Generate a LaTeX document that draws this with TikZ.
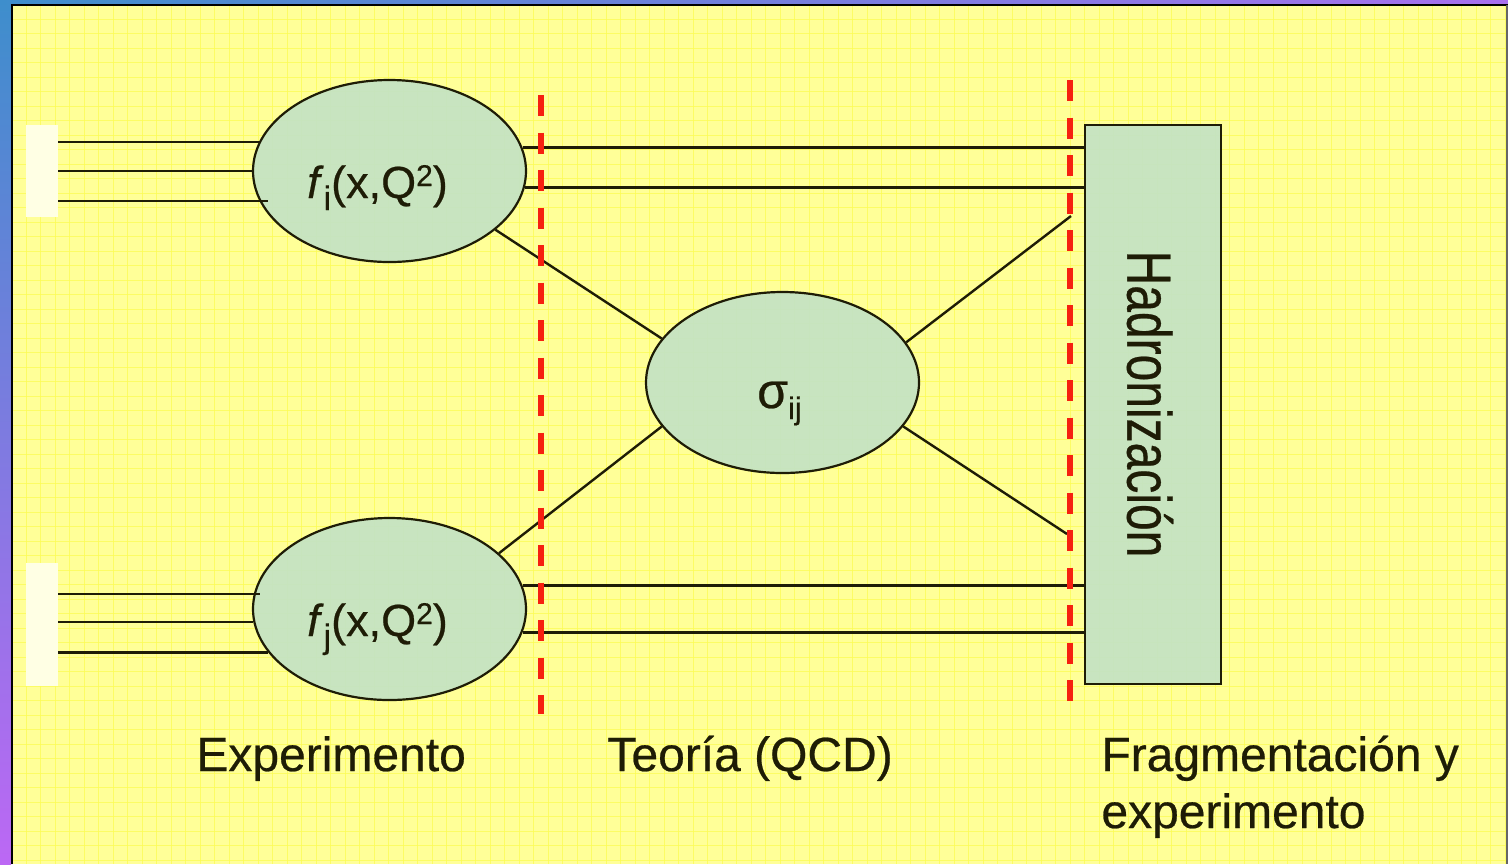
\documentclass[tikz,border=0pt]{standalone}
\usepackage{fontspec}
\setmainfont{Liberation Sans}[FakeBold=0.5]
\usetikzlibrary{shapes.geometric}
\definecolor{bgyellow}{RGB}{255,255,152}
\definecolor{gridyellow}{RGB}{252,252,80}
\definecolor{cellgreen}{RGB}{196,227,196}
\definecolor{inkdark}{RGB}{30,28,6}
\definecolor{sepred}{RGB}{246,32,16}
\definecolor{beamwhite}{RGB}{255,255,228}
\definecolor{edgeblue}{RGB}{62,142,204}
\definecolor{edgepurple}{RGB}{188,104,244}
\definecolor{edgemid}{RGB}{168,112,238}
\newcommand\lowidx[1]{\raisebox{-6pt}{\fontsize{17}{17}\selectfont #1}}
\newcommand\highidx[1]{\raisebox{6pt}{\fontsize{15}{15}\selectfont #1}}
\newcommand\sigidx[1]{\raisebox{-5.5pt}{\fontsize{15.5}{15.5}\selectfont #1}}
\begin{document}
\begin{tikzpicture}[x=0.5pt,y=-0.5pt,
  gridline/.style={draw=gridyellow, line width=0.45pt, opacity=0.7},
  part/.style={ellipse, draw=inkdark, line width=1.1pt, fill=cellgreen, fill opacity=0.93,
    minimum width=136.5pt, minimum height=91pt, inner sep=0pt},
  parttext/.style={font=\fontsize{22.5}{26}\selectfont, text=inkdark, inner sep=0pt, anchor=base},
  beam/.style={rectangle, fill=beamwhite, draw=none, minimum width=16pt, inner sep=0pt},
  hadbox/.style={rectangle, draw=inkdark, line width=1.3pt, fill=cellgreen, fill opacity=0.93,
    minimum width=68pt, minimum height=279.5pt, inner sep=0pt},
  wire/.style={draw=inkdark, line width=1.2pt},
  sepline/.style={draw=sepred, line width=3pt, dash pattern=on 10.5pt off 8.25pt},
  caption/.style={font=\fontsize{24}{28.5}\selectfont, text=inkdark, inner sep=0pt, align=left}]
\useasboundingbox (0,0) rectangle (1508,864);
% background and frame
\fill[bgyellow] (0,0) rectangle (1508,864);
\foreach \i in {0,...,103} \draw[gridline] ({11.5+14.5*\i},4) -- ({11.5+14.5*\i},864);
\foreach \j in {0,...,59} \draw[gridline] (11,{4.5+14.5*\j}) -- (1508,{4.5+14.5*\j});
\shade[top color=edgeblue, bottom color=edgepurple] (0,0) rectangle (11,864);
\shade[left color=edgeblue, right color=edgemid] (0,0) rectangle (1508,4);
\draw[black, line width=1pt] (12,4) -- (12,864);
\draw[black, line width=1pt] (11,5) -- (1508,5);
\draw[black!60, line width=0.6pt] (1507,5) -- (1507,864);

% beams
\node[beam, minimum height=46pt] (pa) at (42,171) {};
\node[beam, minimum height=61.5pt] (pb) at (42,624.5) {};

% blobs
\node[part] (fi) at (389.5,171) {};
\node[part] (fj) at (389.5,609) {};
\node[part, minimum height=90.5pt] (sig) at (782.5,382.5) {};
\node[hadbox] (had) at (1153,404.5) {};

\node[parttext] (fitxt) at ([shift={(-12,27)}]fi.center) {\textit{f}\lowidx{i}(x,Q\highidx{2})};
\node[parttext] (fjtxt) at ([shift={(-12,27)}]fj.center) {\textit{f}\lowidx{j}(x,Q\highidx{2})};
\node[parttext, font=\fontsize{25}{28}\selectfont] (sigtxt) at ([shift={(-3,25.5)}]sig.center) {σ\sigidx{ij}};
\node[caption, rotate=-90] (hadtxt) at (1150,404) {\scalebox{1}[1.3]{Hadronización}};

% incoming partons
\coordinate (a1) at (260,142);
\coordinate (a2) at (253,171);
\coordinate (a3) at (268,201);
\coordinate (b1) at (260,594);
\coordinate (b2) at (253,622);
\coordinate (b3) at (268,652.5);
\draw[wire] (pa.east |- a1) -- (a1);
\draw[wire] (pa.east |- a2) -- (a2);
\draw[wire] (pa.east |- a3) -- (a3);
\draw[wire] (pb.east |- b1) -- (b1);
\draw[wire] (pb.east |- b2) -- (b2);
\draw[wire] (pb.east |- b3) -- (b3);

% spectators to hadronization
\draw[wire] (fi.10.3) -- (fi.10.3 -| had.west);
\draw[wire] (fi.-7.2) -- (fi.-7.2 -| had.west);
\draw[wire] (fj.10.3) -- (fj.10.3 -| had.west);
\draw[wire] (fj.-10.3) -- (fj.-10.3 -| had.west);

% hard process
\coordinate (o1) at (1071,216);
\coordinate (o2) at (1067,534);
\draw[wire] (fi.-29.8) -- (sig.160.4);
\draw[wire] (fj.27.5) -- (sig.200.8);
\draw[wire] (sig.18.7) -- (o1);
\draw[wire] (sig.-20.7) -- (o2);

% separators
\draw[sepline] (541,95) -- (541,714);
\draw[sepline] (1070,80) -- (1070,701);

% captions
\node[caption, anchor=base west] (lexp) at (196,771) {Experimento};
\node[caption, anchor=base west] (lteo) at (607,771) {Teoría (QCD)};
\node[caption, anchor=base west] (lfrag) at (1101,828) {Fragmentación y\\experimento};
\end{tikzpicture}
\end{document}
